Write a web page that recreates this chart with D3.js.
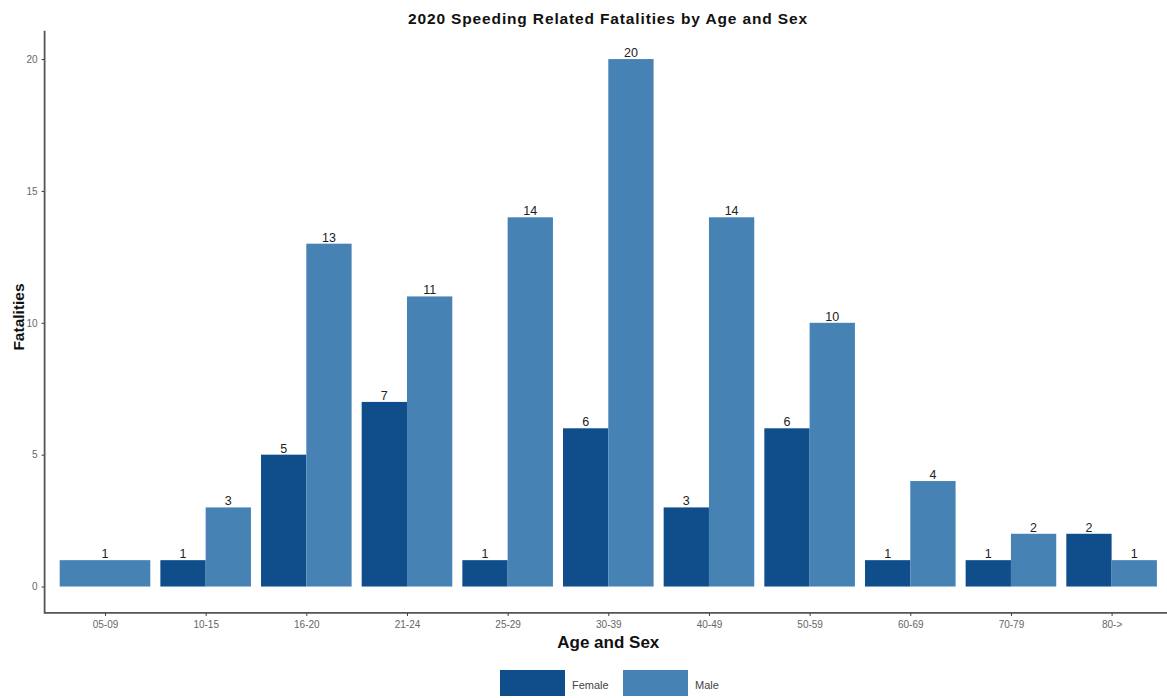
<!DOCTYPE html>
<html>
<head>
<meta charset="utf-8">
<script src="https://cdn.jsdelivr.net/npm/d3@7"></script>
<style>
  html, body { margin: 0; padding: 0; background: #fff; }
  svg { display: block; font-family: "Liberation Sans", Arial, sans-serif; }
</style>
</head>
<body>
<svg id="chart" width="1167" height="698"></svg>
<script>
const categories = ["05-09", "10-15", "16-20", "21-24", "25-29", "30-39", "40-49", "50-59", "60-69", "70-79", "80->"];
const female = [null, 1, 5, 7, 1, 6, 3, 6, 1, 1, 2];
const male = [1, 3, 13, 11, 14, 20, 14, 10, 4, 2, 1];
const seriesNames = ["Female", "Male"];
const seriesColors = ["#104E8B", "#4682B4"];
const yTicks = [0, 5, 10, 15, 20];

(function () {
const svg = d3.select("#chart");
const W = 1167, H = 698;
const pLeft = 44.6, pRight = 1172, pTop = 32.7, pBottom = 612.9;

// discrete scale with 0.6 expansion on each side
const n = categories.length;
const step = (pRight - pLeft) / (n - 1 + 1.2);
const xCenter = d3.scalePoint().domain(categories).range([pLeft + 0.6 * step, pRight - 0.6 * step]);
const y = d3.scaleLinear().domain([-1, 21]).range([pBottom, pTop]);

const groupW = 0.9 * step;

// build bars
const bars = [];
categories.forEach((c, i) => {
  const vals = [female[i], male[i]];
  const present = vals.map((v, k) => ({v, k})).filter(d => d.v !== null && d.v !== undefined);
  const w = groupW / present.length;
  const x0 = xCenter(c) - groupW / 2;
  present.forEach((d, j) => {
    bars.push({cat: c, value: d.v, series: d.k, x: x0 + j * w, w: w});
  });
});

const g = svg.append("g");
g.selectAll("rect.bar").data(bars).enter().append("rect")
  .attr("class", "bar")
  .attr("x", d => d.x)
  .attr("width", d => d.w)
  .attr("y", d => y(d.value))
  .attr("height", d => y(0) - y(d.value))
  .attr("fill", d => seriesColors[d.series]);

g.selectAll("text.lbl").data(bars).enter().append("text")
  .attr("class", "lbl")
  .attr("x", d => d.x + d.w / 2)
  .attr("y", d => y(d.value) - 2)
  .attr("text-anchor", "middle")
  .attr("font-size", 12.5)
  .attr("fill", "#222")
  .text(d => d.value);

// axes
const axisColor = "#555";
const xAxis = svg.append("g").attr("transform", `translate(0,${pBottom})`)
  .call(d3.axisBottom(xCenter).tickSize(3).tickPadding(5).tickSizeOuter(0));
xAxis.select(".domain").remove();
xAxis.append("line").attr("x1", pLeft).attr("x2", W).attr("y1", 0).attr("y2", 0)
  .attr("stroke", axisColor).attr("stroke-width", 1.8);
xAxis.selectAll(".tick line").attr("stroke", "#333");
xAxis.selectAll(".tick text").attr("font-size", 10).attr("fill", "#666")
  .attr("font-family", "Liberation Sans, Arial, sans-serif");

const yAxis = svg.append("g").attr("transform", `translate(${pLeft},0)`)
  .call(d3.axisLeft(y).tickValues(yTicks).tickSize(3).tickPadding(4).tickSizeOuter(0));
yAxis.select(".domain").remove();
yAxis.append("line").attr("x1", 0).attr("x2", 0).attr("y1", pTop - 2).attr("y2", pBottom + 0.9)
  .attr("stroke", axisColor).attr("stroke-width", 1.8);
yAxis.selectAll(".tick line").attr("stroke", "#333");
yAxis.selectAll(".tick text").attr("font-size", 10).attr("fill", "#666")
  .attr("font-family", "Liberation Sans, Arial, sans-serif");

// titles
svg.append("text").attr("x", 607.5).attr("y", 23.5)
  .attr("text-anchor", "middle").attr("font-weight", "bold").attr("font-size", 15.5).attr("fill", "#111")
  .attr("textLength", 399).attr("lengthAdjust", "spacing")
  .text("2020 Speeding Related Fatalities by Age and Sex");
svg.append("text").attr("x", (pLeft + pRight) / 2).attr("y", 648)
  .attr("text-anchor", "middle").attr("font-weight", "bold").attr("font-size", 17).attr("fill", "#111")
  .text("Age and Sex");
svg.append("text").attr("transform", `translate(24,317) rotate(-90)`)
  .attr("text-anchor", "middle").attr("font-weight", "bold").attr("font-size", 15.5).attr("fill", "#111")
  .text("Fatalities");

// legend
const legendItems = [{name: seriesNames[0], color: seriesColors[0], x: 500, tx: 572},
                     {name: seriesNames[1], color: seriesColors[1], x: 623, tx: 695}];
const lg = svg.append("g");
legendItems.forEach(it => {
  lg.append("rect").attr("x", it.x).attr("y", 670).attr("width", 65).attr("height", 26).attr("fill", it.color);
  lg.append("text").attr("x", it.tx).attr("y", 689).attr("font-size", 11).attr("fill", "#444").text(it.name);
});
})();
</script>
</body>
</html>
